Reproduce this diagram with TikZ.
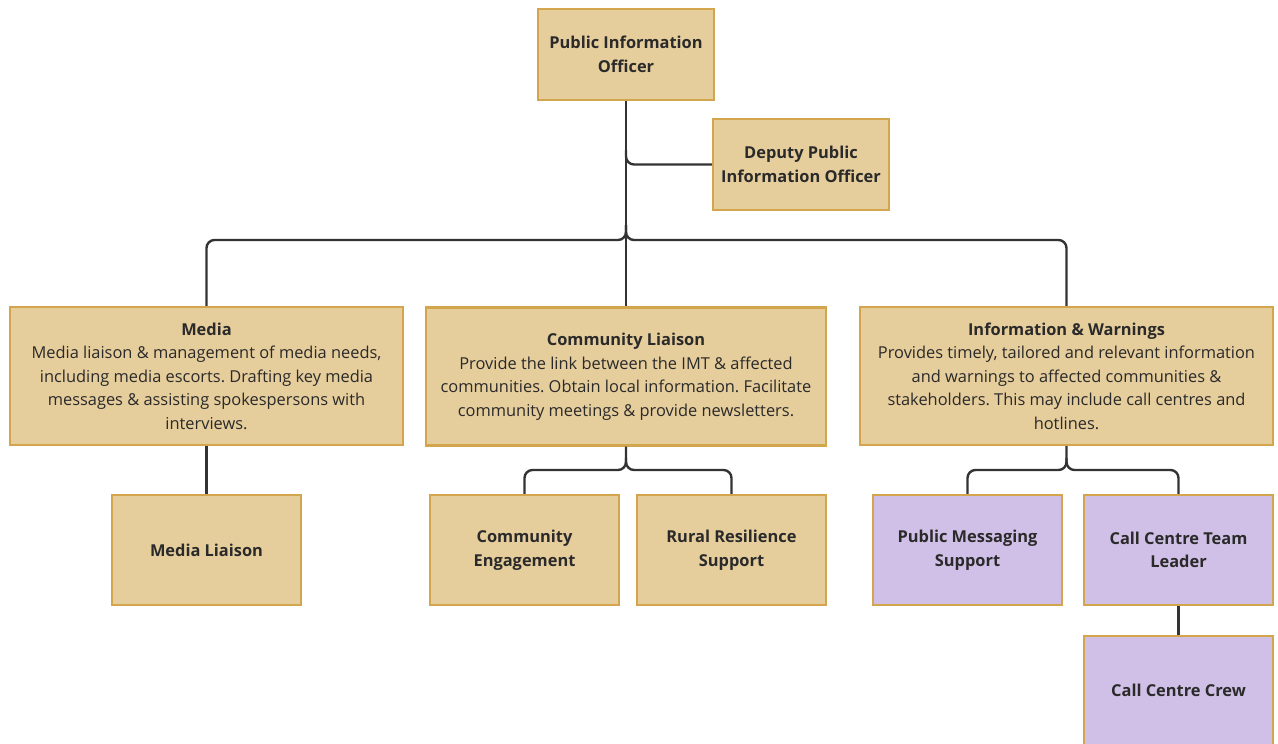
\documentclass[tikz,border=0pt]{standalone}
\usepackage{fontspec}
\setmainfont{Open Sans}
\frenchspacing
\definecolor{tanfill}{HTML}{E6CD9C}
\definecolor{tanedge}{HTML}{D3A54C}
\definecolor{purfill}{HTML}{D0BFE6}
\definecolor{linec}{HTML}{333333}
\definecolor{txt}{HTML}{2A2A2A}
\newcommand{\bd}{\fontsize{16.4}{23}\selectfont\mdseries}
\tikzset{
  box/.style={draw=tanedge, line width=2.2pt, fill=tanfill, align=center, text=txt, inner sep=0pt, font=\fontsize{16.4}{23.5}\selectfont\bfseries},
  pbox/.style={box, fill=purfill},
  conn/.style={draw=linec, line width=2.4pt, rounded corners=8pt},
}
\begin{document}
\begin{tikzpicture}[x=1pt,y=-1pt]
\useasboundingbox (0,0) rectangle (1278,744);
% boxes
\node[box, minimum width=176pt, minimum height=91pt] (pio) at (626,54.5) {Public Information\\Officer};
\node[box, minimum width=176pt, minimum height=91pt] (dep) at (801,164.5) {Deputy Public\\Information Officer};
\node[box, minimum width=393pt, minimum height=138pt] (media) at (206.5,376) {Media\\\bd Media liaison \& management of media needs,\\\bd including media escorts. Drafting key media\\\bd messages \& assisting spokespersons with\\\bd interviews.};
\node[box, minimum width=400pt, minimum height=138pt] (cl) at (626,376.5) {Community Liaison\\\bd Provide the link between the IMT \& affected\\\bd communities. Obtain local information. Facilitate\\\bd community meetings \& provide newsletters.};
\node[box, minimum width=413pt, minimum height=138pt] (iw) at (1066.5,376) {Information \& Warnings\\\bd Provides timely, tailored and relevant information\\\bd and warnings to affected communities \&\\\bd stakeholders. This may include call centres and\\\bd hotlines.};
\node[box, minimum width=189pt, minimum height=110pt] (ml) at (206.5,550) {Media Liaison};
\node[box, minimum width=189pt, minimum height=110pt] (ce) at (524.5,550) {Community\\Engagement};
\node[box, minimum width=189pt, minimum height=110pt] (rr) at (731.5,550) {Rural Resilience\\Support};
\node[pbox, minimum width=189pt, minimum height=110pt] (pm) at (967.5,550) {Public Messaging\\Support};
\node[pbox, minimum width=189pt, minimum height=110pt] (ctl) at (1178.5,550) {Call Centre Team\\Leader};
\node[pbox, minimum width=189pt, minimum height=112pt] (ccc) at (1178.5,692) {};
\node[font=\fontsize{16.4}{23}\selectfont\bfseries, text=txt] (ccct) at (1178.5,690) {Call Centre Crew};
% connector coordinates
\coordinate (j1) at (626,225);
\coordinate (jm) at (206.5,240);
\coordinate (ji) at (1066.5,240);
\coordinate (jd) at (626,150);
\coordinate (j2) at (626,458);
\coordinate (jce) at (524.5,470);
\coordinate (jrr) at (731.5,470);
\coordinate (j3) at (1066.5,458);
\coordinate (jpm) at (967.5,470);
\coordinate (jctl) at (1178.5,470);
% connectors
\draw[conn] (pio.south) -- (cl.north);
\draw[conn] (jd) |- (dep.west);
\draw[conn] (j1) |- (jm) -- (media.north);
\draw[conn] (j1) |- (ji) -- (iw.north);
\draw[conn] (media.south) -- (ml.north);
\draw[conn] (cl.south) -- (j2) |- (jce) -- (ce.north);
\draw[conn] (j2) |- (jrr) -- (rr.north);
\draw[conn] (iw.south) -- (j3) |- (jpm) -- (pm.north);
\draw[conn] (j3) |- (jctl) -- (ctl.north);
\draw[conn] (ctl.south) -- (ccc.north);
\end{tikzpicture}
\end{document}
